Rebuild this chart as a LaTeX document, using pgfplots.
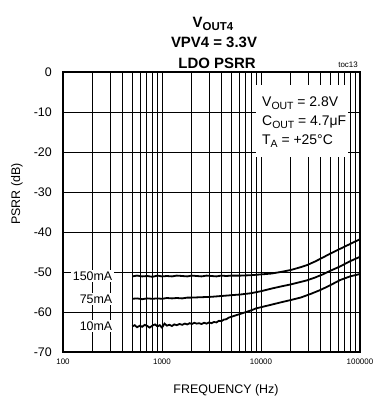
\documentclass[border=0pt]{standalone}
\usepackage{pgfplots}
\pgfplotsset{compat=1.18}
\usepackage{fontspec}
\setmainfont{Liberation Sans}
\newcommand\fs[1]{\fontsize{#1}{#1}\selectfont}
\newcommand\sub[2]{\raisebox{-0.22em}{\fs{#1}#2}}
\begin{document}
\begin{tikzpicture}[x=1bp,y=1bp]
\useasboundingbox (0,0) rectangle (373,401);
\begin{axis}[
  at={(63bp,49bp)}, anchor=south west, scale only axis,
  width=297bp, height=280bp,
  xmode=log, xmin=100, xmax=100000, ymin=-70, ymax=0,
  xtick={100,1000,10000,100000}, xticklabels={100,1000,10000,100000},
  minor xtick={200,300,400,500,600,700,800,900,2000,3000,4000,5000,6000,7000,8000,9000,20000,30000,40000,50000,60000,70000,80000,90000},
  ytick={-70,-60,-50,-40,-30,-20,-10,0}, yticklabels={-70,-60,-50,-40,-30,-20,-10,0},
  xmajorgrids=true, xminorgrids=true, ymajorgrids=true,
  major grid style={black, line width=0.7bp},
  minor grid style={black, line width=0.7bp},
  major tick length=0pt, minor tick length=0pt,
  axis line style={line width=2bp},
  xticklabel style={font=\fs{8}, inner sep=0pt, yshift=-7bp},
  yticklabel style={font=\fs{12.5}, inner sep=0pt, xshift=-11bp},
]
% 150 mA
\addplot[black, line width=1.8bp] coordinates {
(500,-51.1) (560,-50.9) (630,-51.1) (710,-51.0) (800,-51.2) (900,-50.9) (1000,-51.1) (1120,-51.0) (1260,-51.1) (1410,-50.9) (1600,-51.0) (1800,-51.1) (2000,-50.9) (2240,-51.0) (2510,-51.1) (2820,-50.9) (3160,-51.0) (3550,-51.1) (3980,-50.9) (4470,-51.0) (5010,-50.9) (6310,-50.9) (7940,-50.8) (10000,-50.6) (12600,-50.4) (15800,-50.0) (20000,-49.5) (25100,-48.8) (29000,-48.3) (35000,-47.4) (42000,-46.4) (50100,-45.4) (63000,-44.2) (79400,-43.0) (100000,-41.8)
};
% 75 mA
\addplot[black, line width=1.8bp] coordinates {
(500,-56.7) (560,-56.6) (630,-56.8) (710,-56.6) (800,-56.7) (900,-56.6) (1000,-56.7) (1120,-56.5) (1260,-56.6) (1410,-56.5) (1600,-56.6) (1800,-56.4) (2000,-56.4) (2510,-56.3) (3160,-56.2) (3980,-56.0) (5010,-55.8) (6310,-55.6) (7940,-55.3) (10000,-54.8) (13000,-54.1) (16000,-53.6) (20000,-53.1) (25000,-52.5) (29000,-52.1) (35000,-51.4) (42000,-50.6) (50100,-49.7) (63000,-48.6) (79400,-47.3) (100000,-46.2)
};
% 10 mA
\addplot[black, line width=1.8bp] coordinates {
(500,-63.6) (530,-63.3) (560,-63.8) (600,-63.4) (630,-63.7) (670,-63.2) (710,-63.5) (750,-63.9) (800,-63.4) (850,-63.1) (900,-63.6) (950,-63.3) (1000,-63.9) (1060,-62.9) (1120,-63.4) (1190,-63.2) (1260,-63.5) (1330,-63.1) (1410,-63.3) (1500,-63.0) (1600,-63.2) (1700,-62.9) (1800,-63.1) (1900,-62.8) (2000,-63.0) (2120,-62.7) (2240,-62.9) (2370,-62.8) (2510,-63.0) (2660,-62.7) (2820,-62.9) (2990,-62.6) (3160,-62.8) (3350,-62.5) (3550,-62.6) (3760,-62.2) (3980,-62.3) (4220,-61.9) (4470,-61.8) (4730,-61.4) (5010,-61.2) (5620,-60.8) (6310,-60.4) (7080,-60.0) (7940,-59.6) (8910,-59.1) (10000,-58.8) (12600,-58.2) (15800,-57.6) (20000,-57.0) (25100,-56.4) (31600,-55.5) (39800,-54.5) (50100,-53.3) (63100,-52.0) (79400,-51.1) (100000,-50.5)
};
\end{axis}
% titles
\node[anchor=base, font=\fs{15}\bfseries] at (213,374) {V\sub{11.5}{OUT4}};
\node[anchor=base, font=\fs{15}\bfseries] at (214,354) {VPV4 = 3.3V};
\node[anchor=base, font=\fs{15}\bfseries] at (217,333) {LDO PSRR};
\node[anchor=base east, font=\fs{8}, inner sep=0pt] at (358,334) {toc13};
% axis labels
\node[font=\fs{12.5}] at (226,11) {FREQUENCY (Hz)};
\node[font=\fs{12.5}, rotate=90] at (17,207) {PSRR (dB)};
% curve labels
\node[anchor=east, fill=white, inner sep=1.5bp, font=\fs{12.5}] at (114,125) {150mA};
\node[anchor=east, fill=white, inner sep=1.5bp, font=\fs{12.5}] at (114,102) {75mA};
\node[anchor=east, fill=white, inner sep=1.5bp, font=\fs{12.5}] at (114,75) {10mA};
% condition box
\fill[white] (256,244) rectangle (348,316);
\node[anchor=base west, inner sep=0pt, font=\fs{14}] at (262,295) {V\sub{10.5}{OUT} = 2.8V};
\node[anchor=base west, inner sep=0pt, font=\fs{14}] at (262,276) {C\sub{10.5}{OUT} = 4.7μF};
\node[anchor=base west, inner sep=0pt, font=\fs{14}] at (262,257) {T\sub{10.5}{A} = +25°C};
\end{tikzpicture}
\end{document}
